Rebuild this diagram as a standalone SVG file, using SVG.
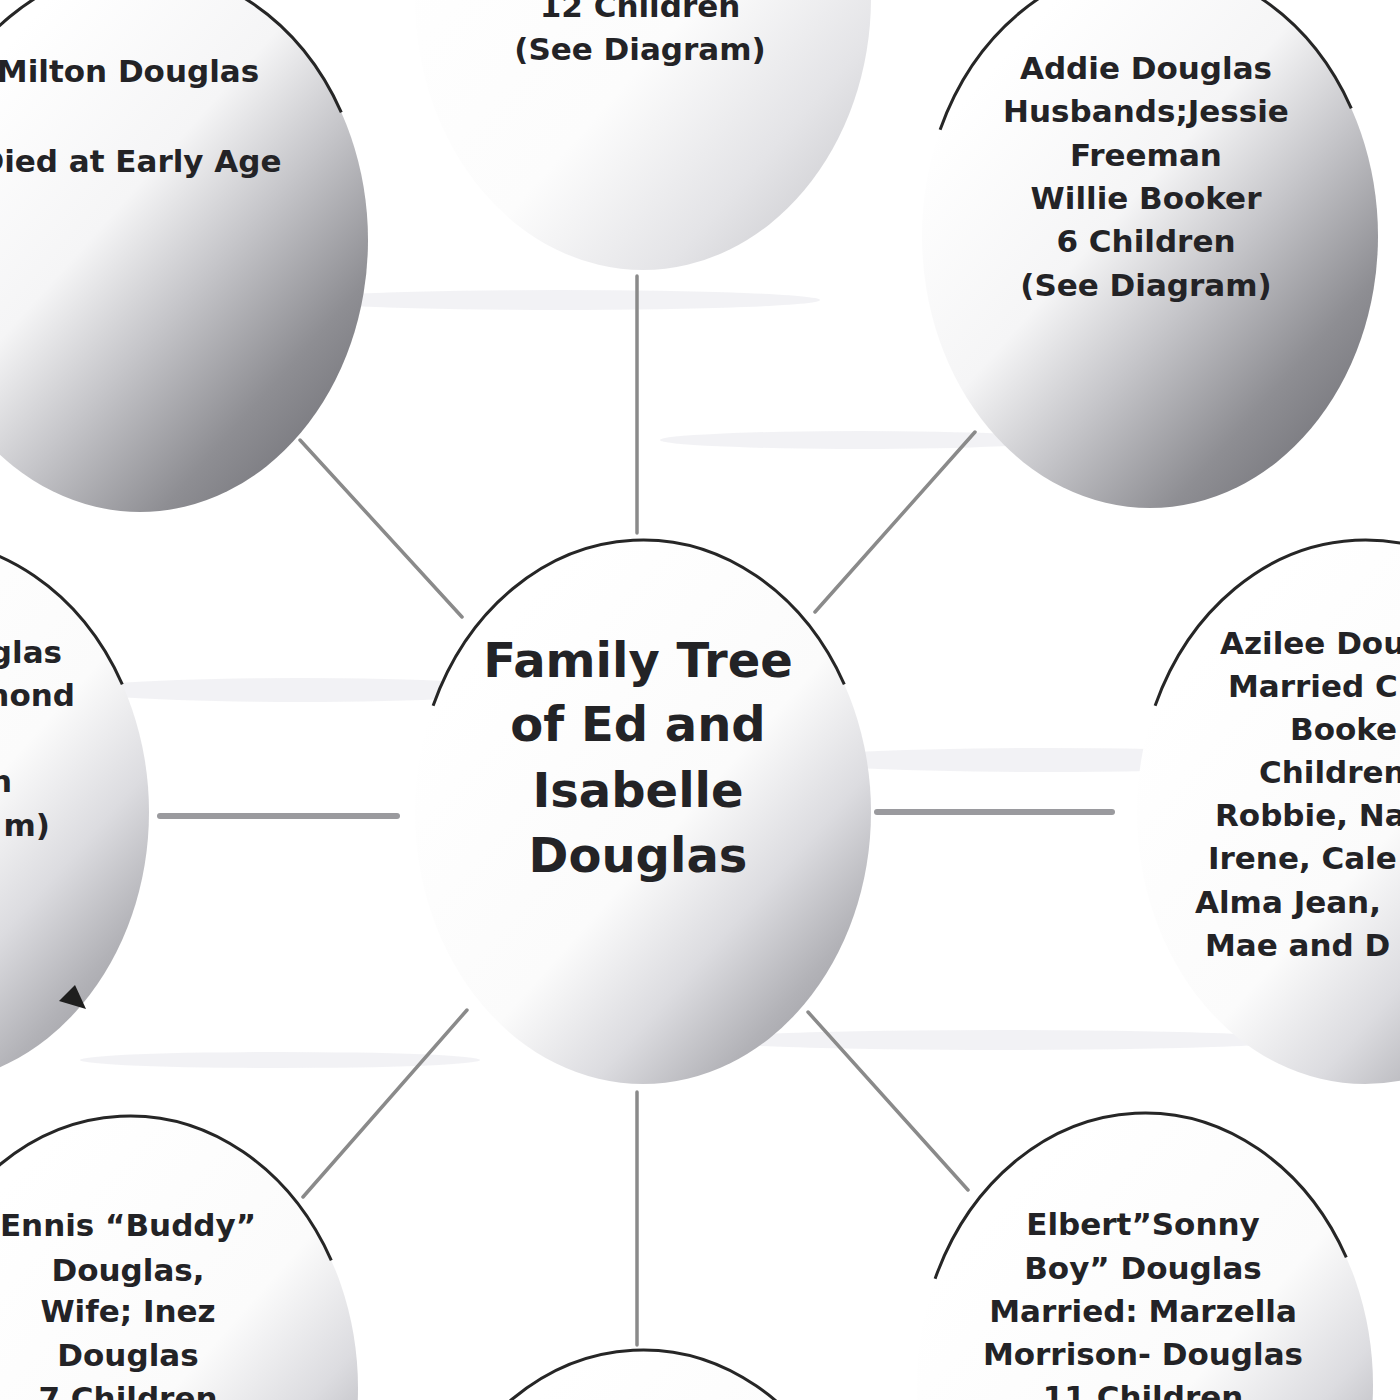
<svg xmlns="http://www.w3.org/2000/svg" width="1400" height="1400" viewBox="0 0 1400 1400">
<defs>
<linearGradient id="shade" x1="0.2" y1="0.15" x2="0.95" y2="0.95">
<stop offset="0" stop-color="#ffffff"/>
<stop offset="0.48" stop-color="#fbfbfb"/>
<stop offset="0.68" stop-color="#dcdce0"/>
<stop offset="0.85" stop-color="#b2b2b7"/>
<stop offset="1" stop-color="#96969b"/>
</linearGradient>
<linearGradient id="shadeDark" x1="0.2" y1="0.15" x2="0.95" y2="0.95">
<stop offset="0" stop-color="#ffffff"/>
<stop offset="0.35" stop-color="#f5f5f6"/>
<stop offset="0.55" stop-color="#c6c6ca"/>
<stop offset="0.78" stop-color="#8e8e93"/>
<stop offset="1" stop-color="#6c6c72"/>
</linearGradient>
<linearGradient id="shadeLight" x1="0.2" y1="0.15" x2="0.95" y2="0.95">
<stop offset="0" stop-color="#ffffff"/>
<stop offset="0.5" stop-color="#fcfcfc"/>
<stop offset="0.78" stop-color="#e4e4e7"/>
<stop offset="1" stop-color="#c8c8cc"/>
</linearGradient>
</defs>
<style>
.bg{fill:#ffffff}
.outline{fill:none;stroke:#262626;stroke-width:3}
.conn{stroke:#8a8a8a;stroke-width:3.5;stroke-linecap:round;fill:none}
.conn-thick{stroke:#9a9a9e;stroke-width:6;stroke-linecap:round;fill:none}
.t{font-family:"DejaVu Sans","Liberation Sans",sans-serif;font-weight:bold;font-size:31px;fill:#232326}
.tc{text-anchor:middle}
.ts{text-anchor:start}
.te{text-anchor:end}
.title{font-family:"DejaVu Sans","Liberation Sans",sans-serif;font-weight:bold;font-size:48px;fill:#232326;text-anchor:middle}
.streak{fill:#e9e9ee;opacity:0.6}
</style>
<rect class="bg" x="0" y="0" width="1400" height="1400"/>
<g id="paper">
<ellipse class="streak" cx="560" cy="300" rx="260" ry="10"/>
<ellipse class="streak" cx="860" cy="440" rx="200" ry="9"/>
<ellipse class="streak" cx="300" cy="690" rx="220" ry="12"/>
<ellipse class="streak" cx="1050" cy="760" rx="260" ry="12"/>
<ellipse class="streak" cx="1000" cy="1040" rx="300" ry="10"/>
<ellipse class="streak" cx="280" cy="1060" rx="200" ry="8"/>
</g>
<g id="connectors">
<line class="conn" x1="637" y1="276" x2="637" y2="533"/>
<line class="conn" x1="637" y1="1092" x2="637" y2="1345"/>
<line class="conn-thick" x1="160" y1="816" x2="397" y2="816"/>
<line class="conn-thick" x1="877" y1="812" x2="1112" y2="812"/>
<line class="conn" x1="300" y1="440" x2="462" y2="617"/>
<line class="conn" x1="975" y1="432" x2="815" y2="612"/>
<line class="conn" x1="467" y1="1010" x2="303" y2="1197"/>
<line class="conn" x1="808" y1="1012" x2="968" y2="1190"/>
</g>
<g id="node-top">
<ellipse cx="643" cy="-2" rx="228" ry="272" fill="url(#shadeLight)"/>
<text class="t tc" x="640" y="17">12 Children</text>
<text class="t tc" x="640" y="60">(See Diagram)</text>
</g>
<g id="node-milton">
<ellipse cx="140" cy="240" rx="228" ry="272" fill="url(#shadeDark)"/>
<path class="outline" d="M -69.9 133.7 A 228 272 0 0 1 341.3 112.3"/>
<text class="t tc" x="128" y="82">Milton Douglas</text>
<text class="t tc" x="130" y="172">Died at Early Age</text>
</g>
<g id="node-addie">
<ellipse cx="1150" cy="236" rx="228" ry="272" fill="url(#shadeDark)"/>
<path class="outline" d="M 940.1 129.7 A 228 272 0 0 1 1351.3 108.3"/>
<text class="t tc" x="1146" y="79">Addie Douglas</text>
<text class="t tc" x="1146" y="122">Husbands;Jessie</text>
<text class="t tc" x="1146" y="166">Freeman</text>
<text class="t tc" x="1146" y="209">Willie Booker</text>
<text class="t tc" x="1146" y="252">6 Children</text>
<text class="t tc" x="1146" y="296">(See Diagram)</text>
</g>
<g id="node-left">
<ellipse cx="-79" cy="812" rx="228" ry="272" fill="url(#shade)"/>
<path class="outline" d="M -288.9 705.7 A 228 272 0 0 1 122.3 684.3"/>
<text class="t te" x="62" y="663">glas</text>
<text class="t te" x="75" y="706">nond</text>
<text class="t te" x="12" y="792">n</text>
<text class="t te" x="50" y="836">m)</text>
<polygon points="75,985 59,1001 86,1009" fill="#1e1e1e"/>
</g>
<g id="node-azilee">
<ellipse cx="1365" cy="812" rx="228" ry="272" fill="url(#shade)"/>
<path class="outline" d="M 1155.1 705.7 A 228 272 0 0 1 1566.3 684.3"/>
<text class="t ts" x="1220" y="654">Azilee Dou</text>
<text class="t ts" x="1228" y="697">Married C</text>
<text class="t ts" x="1290" y="740">Booke</text>
<text class="t ts" x="1259" y="783">Children</text>
<text class="t ts" x="1215" y="826">Robbie, Na</text>
<text class="t ts" x="1208" y="869">Irene, Cale</text>
<text class="t ts" x="1195" y="913">Alma Jean,</text>
<text class="t ts" x="1205" y="956">Mae and D</text>
</g>
<g id="node-center">
<ellipse cx="643" cy="812" rx="228" ry="272" fill="url(#shade)"/>
<path class="outline" d="M 433.1 705.7 A 228 272 0 0 1 844.3 684.3"/>
<text class="title" x="638" y="677">Family Tree</text>
<text class="title" x="638" y="741">of Ed and</text>
<text class="title" x="638" y="807">Isabelle</text>
<text class="title" x="638" y="872">Douglas</text>
</g>
<g id="node-ennis">
<ellipse cx="130" cy="1388" rx="228" ry="272" fill="url(#shade)"/>
<path class="outline" d="M -79.9 1281.7 A 228 272 0 0 1 331.3 1260.3"/>
<text class="t tc" x="128" y="1236">Ennis “Buddy”</text>
<text class="t tc" x="128" y="1281">Douglas,</text>
<text class="t tc" x="128" y="1322">Wife; Inez</text>
<text class="t tc" x="128" y="1366">Douglas</text>
<text class="t tc" x="128" y="1409">7 Children</text>
</g>
<g id="node-elbert">
<ellipse cx="1145" cy="1385" rx="228" ry="272" fill="url(#shade)"/>
<path class="outline" d="M 935.1 1278.7 A 228 272 0 0 1 1346.3 1257.3"/>
<text class="t tc" x="1143" y="1235">Elbert”Sonny</text>
<text class="t tc" x="1143" y="1279">Boy” Douglas</text>
<text class="t tc" x="1143" y="1322">Married: Marzella</text>
<text class="t tc" x="1143" y="1365">Morrison- Douglas</text>
<text class="t tc" x="1143" y="1408">11 Children</text>
</g>
<g id="node-bottom">
<ellipse cx="643" cy="1622" rx="228" ry="272" fill="url(#shade)"/>
<path class="outline" d="M 433.1 1515.7 A 228 272 0 0 1 844.3 1494.3"/>
</g>
</svg>
